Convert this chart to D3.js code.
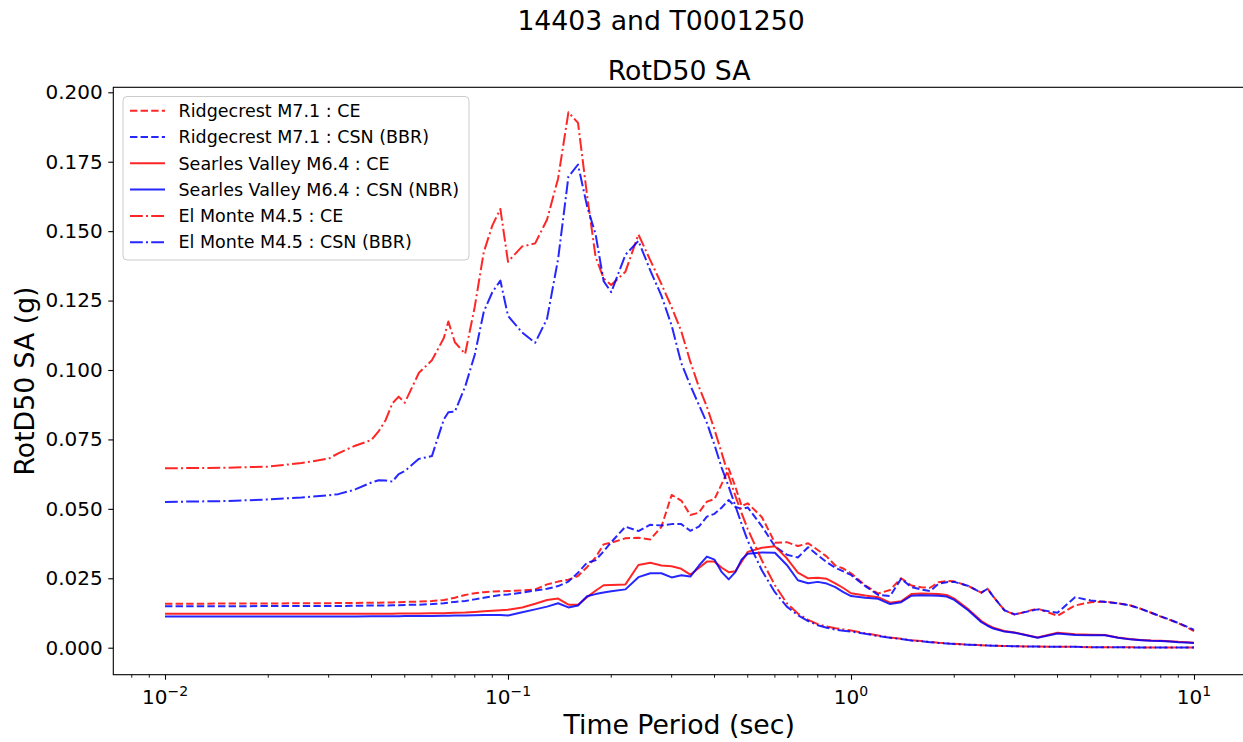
<!DOCTYPE html>
<html>
<head>
<meta charset="utf-8">
<script src="https://cdn.jsdelivr.net/npm/d3@7"></script>
<style>
  body { margin: 0; background: #fff; }
  svg text { font-family: "DejaVu Sans", sans-serif; fill: #000; }
</style>
</head>
<body>
<div id="chart"></div>
<script>
// periods (sec) shared by every spectrum
const periods = [
  0.01, 0.015, 0.02, 0.025, 0.03, 0.032, 0.035, 0.036, 0.04, 0.042,
  0.044, 0.046, 0.048, 0.05, 0.055, 0.06, 0.065, 0.067, 0.07, 0.075,
  0.08, 0.085, 0.09, 0.095, 0.1, 0.11, 0.12, 0.13, 0.14, 0.15,
  0.16, 0.17, 0.18, 0.19, 0.2, 0.22, 0.24, 0.26, 0.28, 0.3,
  0.32, 0.34, 0.36, 0.38, 0.4, 0.42, 0.44, 0.46, 0.48, 0.5,
  0.55, 0.6, 0.65, 0.7, 0.75, 0.8, 0.85, 0.9, 0.95, 1,
  1.1, 1.2, 1.3, 1.4, 1.5, 1.6, 1.7, 1.8, 1.9, 2,
  2.2, 2.4, 2.5, 2.6, 2.8, 3, 3.5, 4, 4.5, 5,
  5.5, 6, 6.5, 7, 7.5, 8, 8.5, 9, 9.5, 10
];

// Ridgecrest M7.1
const rcCE = [
  0.0158, 0.0159, 0.0159, 0.0160, 0.0160, 0.0161, 0.0161, 0.0161, 0.0162, 0.0162,
  0.0163, 0.0163, 0.0164, 0.0165, 0.0166, 0.0168, 0.0172, 0.0175, 0.0180, 0.0190,
  0.0196, 0.0200, 0.0202, 0.0203, 0.0204, 0.0206, 0.0210, 0.0228, 0.0238, 0.0245,
  0.0258, 0.0290, 0.0325, 0.0372, 0.0378, 0.0394, 0.0396, 0.0390, 0.0435, 0.0550,
  0.0530, 0.0478, 0.0486, 0.0526, 0.0535, 0.0590, 0.0645, 0.0580, 0.0510, 0.0520,
  0.0470, 0.0378, 0.0380, 0.0366, 0.0376, 0.0352, 0.0328, 0.0296, 0.0285, 0.0268,
  0.0225, 0.0195, 0.0208, 0.0250, 0.0224, 0.0218, 0.0216, 0.0236, 0.0240, 0.0239,
  0.0222, 0.0198, 0.0213, 0.0184, 0.0135, 0.0119, 0.0141, 0.0115, 0.0152, 0.0164,
  0.0166, 0.0160, 0.0153, 0.0140, 0.0126, 0.0112, 0.0100, 0.0088, 0.0075, 0.0060
];
const rcCSN = [
  0.0149, 0.0149, 0.0150, 0.0150, 0.0150, 0.0150, 0.0151, 0.0151, 0.0152, 0.0152,
  0.0152, 0.0153, 0.0153, 0.0154, 0.0155, 0.0157, 0.0160, 0.0162, 0.0165, 0.0168,
  0.0174, 0.0180, 0.0185, 0.0190, 0.0192, 0.0198, 0.0206, 0.0212, 0.0222, 0.0238,
  0.0270, 0.0306, 0.0315, 0.0347, 0.0380, 0.0436, 0.0420, 0.0443, 0.0440, 0.0445,
  0.0445, 0.0421, 0.0436, 0.0472, 0.0482, 0.0505, 0.0532, 0.0507, 0.0500, 0.0505,
  0.0437, 0.0365, 0.0335, 0.0325, 0.0362, 0.0333, 0.0308, 0.0288, 0.0275, 0.0262,
  0.0222, 0.0190, 0.0186, 0.0248, 0.0218, 0.0210, 0.0204, 0.0230, 0.0236, 0.0237,
  0.0222, 0.0198, 0.0212, 0.0184, 0.0135, 0.0120, 0.0138, 0.0126, 0.0182, 0.0170,
  0.0165, 0.0160, 0.0152, 0.0140, 0.0126, 0.0113, 0.0101, 0.0089, 0.0077, 0.0064
];

// Searles Valley M6.4
const svCE = [
  0.0122, 0.0122, 0.0122, 0.0122, 0.0122, 0.0122, 0.0122, 0.0122, 0.0122, 0.0122,
  0.0122, 0.0122, 0.0123, 0.0123, 0.0123, 0.0124, 0.0124, 0.0125, 0.0126, 0.0127,
  0.0129, 0.0131, 0.0133, 0.0135, 0.0137, 0.0145, 0.0158, 0.0172, 0.0177, 0.0155,
  0.0155, 0.0182, 0.0205, 0.0225, 0.0226, 0.0228, 0.0298, 0.0306, 0.0296, 0.0293,
  0.0284, 0.0263, 0.0287, 0.0310, 0.0310, 0.0288, 0.0272, 0.0275, 0.0310, 0.0345,
  0.0360, 0.0365, 0.0322, 0.0270, 0.0250, 0.0252, 0.0248, 0.0232, 0.0215, 0.0196,
  0.0188, 0.0182, 0.0162, 0.0167, 0.0193, 0.0195, 0.0194, 0.0193, 0.0190, 0.0177,
  0.0138, 0.0096, 0.0082, 0.0072, 0.0060, 0.0055, 0.0037, 0.0054, 0.0048, 0.0047,
  0.0046, 0.0037, 0.0031, 0.0028, 0.0026, 0.0025, 0.0023, 0.0021, 0.0020, 0.0018
];
const svCSN = [
  0.0112, 0.0112, 0.0112, 0.0112, 0.0112, 0.0112, 0.0112, 0.0112, 0.0113, 0.0113,
  0.0113, 0.0113, 0.0113, 0.0114, 0.0114, 0.0114, 0.0115, 0.0115, 0.0116, 0.0116,
  0.0117, 0.0118, 0.0118, 0.0118, 0.0116, 0.0128, 0.0138, 0.0148, 0.0160, 0.0145,
  0.0152, 0.0185, 0.0193, 0.0199, 0.0203, 0.0210, 0.0254, 0.0268, 0.0268, 0.0253,
  0.0261, 0.0256, 0.0295, 0.0328, 0.0317, 0.0272, 0.0246, 0.0272, 0.0318, 0.0338,
  0.0343, 0.0342, 0.0298, 0.0243, 0.0232, 0.0237, 0.0231, 0.0218, 0.0200, 0.0186,
  0.0180, 0.0176, 0.0157, 0.0164, 0.0187, 0.0189, 0.0188, 0.0187, 0.0184, 0.0172,
  0.0134, 0.0092, 0.0079, 0.0069, 0.0058, 0.0054, 0.0036, 0.0051, 0.0046, 0.0045,
  0.0045, 0.0036, 0.0030, 0.0027, 0.0025, 0.0024, 0.0022, 0.0020, 0.0019, 0.0017
];

// El Monte M4.5
const emCE = [
  0.0646, 0.0648, 0.0652, 0.0665, 0.0681, 0.0700, 0.0722, 0.0728, 0.0748, 0.0780,
  0.0820, 0.0880, 0.0904, 0.0882, 0.0990, 0.1035, 0.1115, 0.1175, 0.1100, 0.1058,
  0.1228, 0.1425, 0.1520, 0.1580, 0.1390, 0.1445, 0.1456, 0.1542, 0.1690, 0.1928,
  0.1890, 0.1630, 0.1408, 0.1330, 0.1306, 0.1354, 0.1488, 0.1395, 0.1310, 0.1226,
  0.1140, 0.1030, 0.0940, 0.0868, 0.0785, 0.0700, 0.0618, 0.0547, 0.0484, 0.0427,
  0.0314, 0.0225, 0.0160, 0.0123, 0.0100, 0.0085, 0.0076, 0.0070, 0.0066, 0.0062,
  0.0052, 0.0044, 0.0037, 0.0032, 0.0027, 0.0024, 0.0021, 0.0018, 0.0016, 0.0014,
  0.0011, 0.0009, 0.0008, 0.0007, 0.0006, 0.0005, 0.0004, 0.0003, 0.0003, 0.0002,
  0.0002, 0.0002, 0.0002, 0.0001, 0.0001, 0.0001, 0.0001, 0.0001, 0.0001, 0.0001
];
const emCSN = [
  0.0525, 0.0528, 0.0534, 0.0541, 0.0549, 0.0553, 0.0566, 0.0571, 0.0595, 0.0603,
  0.0602, 0.0598, 0.0625, 0.0636, 0.0680, 0.0690, 0.0822, 0.0848, 0.0850, 0.0940,
  0.1055, 0.1210, 0.1280, 0.1322, 0.1195, 0.1135, 0.1098, 0.1185, 0.1400, 0.1696,
  0.1740, 0.1590, 0.1490, 0.1320, 0.1280, 0.1415, 0.1465, 0.1358, 0.1268, 0.1160,
  0.1025, 0.0945, 0.0875, 0.0810, 0.0730, 0.0647, 0.0580, 0.0511, 0.0445, 0.0385,
  0.0278, 0.0200, 0.0148, 0.0117, 0.0096, 0.0081, 0.0072, 0.0065, 0.0061, 0.0058,
  0.0050, 0.0042, 0.0036, 0.0031, 0.0026, 0.0023, 0.0020, 0.0017, 0.0015, 0.0013,
  0.0011, 0.0009, 0.0008, 0.0007, 0.0006, 0.0005, 0.0004, 0.0003, 0.0003, 0.0002,
  0.0002, 0.0002, 0.0001, 0.0001, 0.0001, 0.0001, 0.0001, 0.0001, 0.0001, 0.0001
];

const seriesLabels = [
  "Ridgecrest M7.1 : CE",
  "Ridgecrest M7.1 : CSN (BBR)",
  "Searles Valley M6.4 : CE",
  "Searles Valley M6.4 : CSN (NBR)",
  "El Monte M4.5 : CE",
  "El Monte M4.5 : CSN (BBR)"
];
const seriesValues = [rcCE, rcCSN, svCE, svCSN, emCE, emCSN];

const xMajorTicks = [0.01, 0.1, 1, 10];
const xTickExponents = ["−2", "−1", "0", "1"];
const yTicks = [0, 0.025, 0.05, 0.075, 0.1, 0.125, 0.15, 0.175, 0.2];

const suptitle = "14403 and T0001250";
const title = "RotD50 SA";
const xLabel = "Time Period (sec)";
const yLabel = "RotD50 SA (g)";

// line styles (matplotlib-like, lw = 2px)
const LW = 2;
const DASHES = { solid: null, dashed: "7.4,3.2", dashdot: "12.8,3.2,2,3.2" };
const styles = [
  { color: "red", dash: "dashed" },
  { color: "blue", dash: "dashed" },
  { color: "red", dash: "solid" },
  { color: "blue", dash: "solid" },
  { color: "red", dash: "dashdot" },
  { color: "blue", dash: "dashdot" }
];

function draw() {
  const width = 1243, height = 742;
  // axes box in pixels
  const box = { left: 113.3, right: 1245, top: 87.3, bottom: 674.7 };

  const svg = d3.select("#chart").append("svg")
    .attr("width", width)
    .attr("height", height);

  const x = d3.scaleLog().domain([0.01, 10]).range([165, 1194]);
  const y = d3.scaleLinear().domain([0, 0.2]).range([647.7, 92.3]);

  // series
  const line = d3.line()
    .x((d, i) => x(periods[i]))
    .y(d => y(d));

  svg.append("g")
    .selectAll("path")
    .data(seriesValues)
    .enter()
    .append("path")
    .attr("d", d => line(d))
    .attr("fill", "none")
    .attr("stroke", (d, i) => styles[i].color)
    .attr("stroke-opacity", 0.85)
    .attr("stroke-width", LW)
    .attr("stroke-linejoin", "round")
    .attr("stroke-dasharray", (d, i) => DASHES[styles[i].dash]);

  // y axis
  const yAxis = d3.axisLeft(y)
    .tickValues(yTicks)
    .tickFormat(d3.format(".3f"))
    .tickSize(5)
    .tickPadding(5.5);
  const gy = svg.append("g")
    .attr("transform", `translate(${box.left},0)`)
    .call(yAxis);
  gy.select(".domain").remove();
  gy.selectAll("text").style("font-size", "20px").attr("fill", "#000");
  gy.selectAll("line").attr("stroke", "#000").attr("stroke-width", 1.1);

  // x axis: major ticks
  const xAxis = d3.axisBottom(x)
    .tickValues(xMajorTicks)
    .tickFormat("")
    .tickSize(5);
  const gx = svg.append("g")
    .attr("transform", `translate(0,${box.bottom})`)
    .call(xAxis);
  gx.select(".domain").remove();
  gx.selectAll("line").attr("stroke", "#000").attr("stroke-width", 1.1);

  // x minor ticks within the axes range
  const [lo, hi] = [x.invert(box.left), x.invert(box.right)];
  const minor = [];
  for (let e = -3; e <= 1; e++) {
    for (let m = 2; m <= 9; m++) {
      const v = m * Math.pow(10, e);
      if (v >= lo && v <= hi) minor.push(v);
    }
  }
  svg.append("g")
    .selectAll("line")
    .data(minor)
    .enter()
    .append("line")
    .attr("x1", d => x(d)).attr("x2", d => x(d))
    .attr("y1", box.bottom).attr("y2", box.bottom + 3)
    .attr("stroke", "#000")
    .attr("stroke-width", 0.9);

  // x tick labels as 10^n
  const xl = svg.append("g")
    .selectAll("text")
    .data(xMajorTicks)
    .enter()
    .append("text")
    .attr("x", d => x(d))
    .attr("y", 704)
    .attr("text-anchor", "middle")
    .style("font-size", "20px");
  xl.append("tspan").text("10");
  xl.append("tspan")
    .attr("dy", -8)
    .style("font-size", "14px")
    .text((d, i) => xTickExponents[i]);

  // spines
  svg.append("rect")
    .attr("x", box.left)
    .attr("y", box.top)
    .attr("width", box.right - box.left)
    .attr("height", box.bottom - box.top)
    .attr("fill", "none")
    .attr("stroke", "#000")
    .attr("stroke-width", 1.1);

  // titles and axis labels
  svg.append("text")
    .attr("x", 661).attr("y", 30)
    .attr("text-anchor", "middle")
    .style("font-size", "26.7px")
    .text(suptitle);
  svg.append("text")
    .attr("x", (box.left + box.right) / 2).attr("y", 80)
    .attr("text-anchor", "middle")
    .style("font-size", "26.7px")
    .text(title);
  svg.append("text")
    .attr("x", (box.left + box.right) / 2).attr("y", 734)
    .attr("text-anchor", "middle")
    .style("font-size", "26.7px")
    .text(xLabel);
  svg.append("text")
    .attr("transform", `translate(34,${(box.top + box.bottom) / 2}) rotate(-90)`)
    .attr("text-anchor", "middle")
    .style("font-size", "26.7px")
    .text(yLabel);

  // legend
  const legend = svg.append("g");
  legend.append("rect")
    .attr("x", 123).attr("y", 96.5)
    .attr("width", 346).attr("height", 163.5)
    .attr("rx", 4)
    .attr("fill", "#fff").attr("fill-opacity", 0.8)
    .attr("stroke", "#cccccc")
    .attr("stroke-width", 1);

  const rows = legend.selectAll("g.row")
    .data(seriesLabels)
    .enter()
    .append("g")
    .attr("class", "row")
    .attr("transform", (d, i) => `translate(0,${110.7 + i * 26.3})`);

  rows.append("line")
    .attr("x1", 130).attr("x2", 165)
    .attr("y1", 0).attr("y2", 0)
    .attr("stroke", (d, i) => styles[i].color)
    .attr("stroke-opacity", 0.85)
    .attr("stroke-width", LW)
    .attr("stroke-dasharray", (d, i) => DASHES[styles[i].dash]);

  rows.append("text")
    .attr("x", 178.5)
    .attr("y", 6.2)
    .style("font-size", "17.5px")
    .text(d => d);
}

draw();
</script>
</body>
</html>
